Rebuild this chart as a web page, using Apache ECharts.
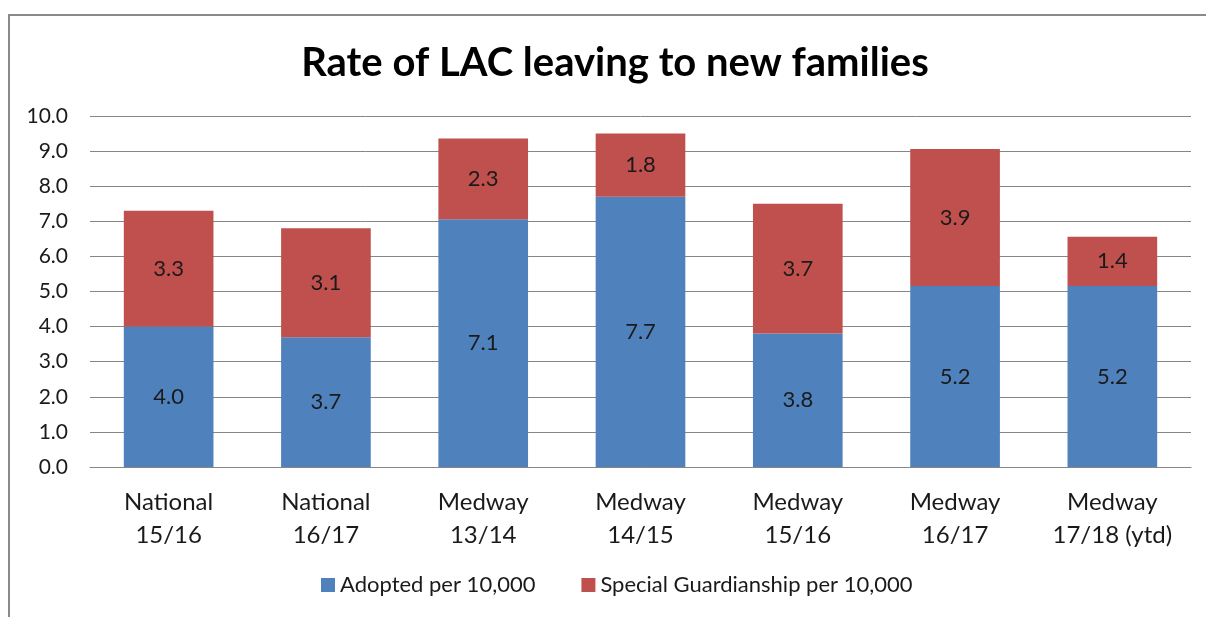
<!DOCTYPE html>
<html>
<head>
<meta charset="utf-8">
<script src="https://cdn.jsdelivr.net/npm/echarts@6/dist/echarts.min.js"></script>
<style>html,body{margin:0;padding:0;background:#fff}#c{width:1206px;height:617px}</style>
</head>
<body>
<div id="c"></div>
<script>
const categories = ['National\n15/16','National\n16/17','Medway\n13/14','Medway\n14/15','Medway\n15/16','Medway\n16/17','Medway\n17/18 (ytd)'];
const adopted = [4.0, 3.7, 7.06, 7.7, 3.8, 5.16, 5.16];
const specialGuardianship = [3.3, 3.1, 2.3, 1.8, 3.7, 3.9, 1.4];
const seriesNames = ['Adopted per 10,000', 'Special Guardianship per 10,000'];
const titleText = 'Rate of LAC leaving to new families';

const FONT = 'Lato';
const chart = echarts.init(document.getElementById('c'));
const lbl = {show:true, position:'inside', color:'#1a1a1a', fontSize:22, fontFamily:FONT, formatter: p => p.value.toFixed(1)};
chart.setOption({
  animation:false,
  graphic:[{type:'rect', shape:{x:9, y:15, width:1400, height:800}, style:{fill:'none', stroke:'#8a8a8a', lineWidth:2}, z:-1}],
  title:{text:titleText, left:610, textAlign:'center', top:38, textStyle:{fontFamily:FONT, fontWeight:'bold', fontSize:40, color:'#000'}},
  legend:{bottom:16, left:316, itemWidth:14, itemHeight:14, itemGap:46, icon:'rect',
    textStyle:{fontFamily:FONT, fontSize:22, color:'#1a1a1a'}, data:seriesNames},
  grid:{left:90, right:15, top:116, bottom:150},
  xAxis:{type:'category', data:categories,
    axisLine:{lineStyle:{color:'#868686'}}, axisTick:{show:false},
    axisLabel:{interval:0, fontFamily:FONT, fontSize:24, color:'#1a1a1a', margin:19, lineHeight:33}},
  yAxis:{type:'value', min:0, max:10, interval:1,
    axisLine:{show:false}, axisTick:{show:false},
    splitLine:{lineStyle:{color:'#868686'}},
    axisLabel:{fontFamily:FONT, fontSize:21, color:'#1a1a1a', margin:22, formatter:v=>v.toFixed(1)}},
  series:[
    {name:seriesNames[0], type:'bar', stack:'a', data:adopted, barWidth:'57%', itemStyle:{color:'#4F81BD'}, label:lbl},
    {name:seriesNames[1], type:'bar', stack:'a', data:specialGuardianship, barWidth:'57%', itemStyle:{color:'#C0504D'}, label:lbl}
  ]
});
</script>
</body>
</html>
